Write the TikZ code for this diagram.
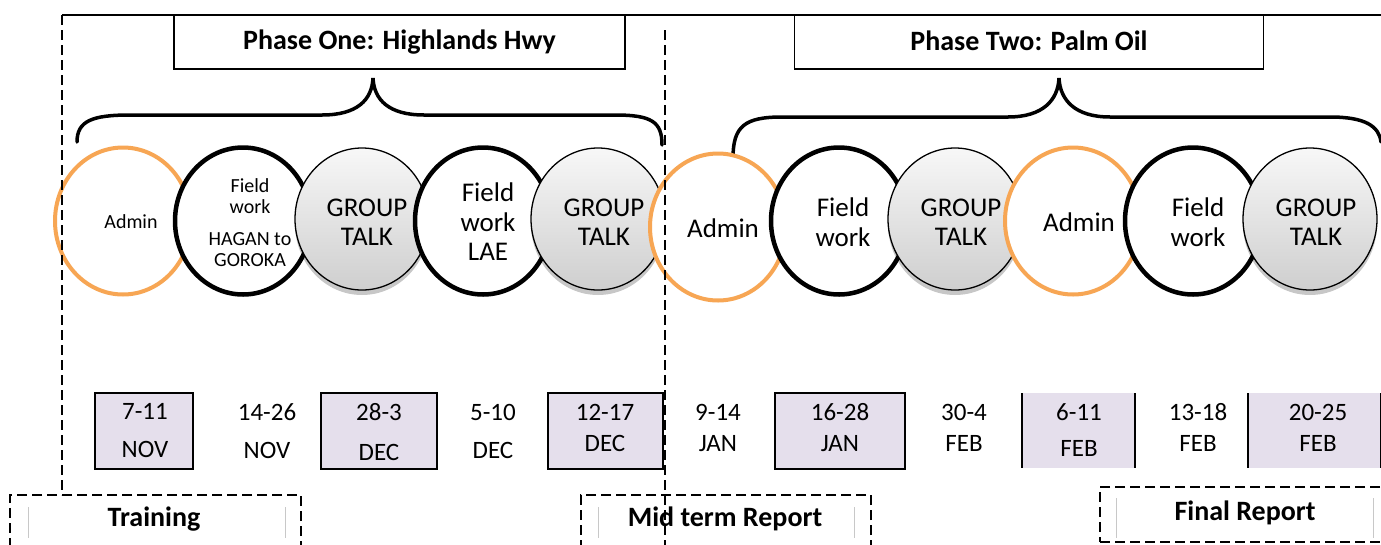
\documentclass[tikz,border=0pt]{standalone}
\usepackage{fontspec}
\setmainfont{Carlito}
\usetikzlibrary{shapes.geometric,shadows}
\definecolor{orng}{RGB}{247,166,84}
\definecolor{lav}{RGB}{229,223,236}
\definecolor{gline}{RGB}{200,200,200}
\begin{document}
\begin{tikzpicture}[x=1pt,y=-1pt,
  every node/.style={inner sep=0pt, outer sep=0pt},
  oval/.style={ellipse, minimum width=136pt, minimum height=147pt, fill=white},
  adm/.style={oval, draw=orng, line width=4pt},
  fld/.style={oval, draw=black, line width=4.5pt},
  grp/.style={ellipse, minimum width=134pt, minimum height=142pt, draw=black, line width=1.3pt,
     top color=gray!6, bottom color=gray!38,
     drop shadow={shadow xshift=0pt, shadow yshift=-5pt, opacity=0.22, fill=black}},
  big/.style={font=\fontsize{27}{29.5}\selectfont, align=center},
  small/.style={font=\fontsize{20}{21}\selectfont, align=center},
  datebox/.style={rectangle, draw=black, line width=1.8pt, fill=lav, minimum height=76pt},
  datefill/.style={rectangle, fill=lav, minimum height=75pt},
  dtxt/.style={font=\fontsize{25}{31}\selectfont, align=center},
  titlebox/.style={rectangle, draw=black, line width=1.8pt, fill=white, minimum height=54pt,
     font=\bfseries\fontsize{28}{30}\selectfont},
  dline/.style={line width=2.2pt, dash pattern=on 10pt off 5pt},
  repbox/.style={rectangle, draw=black, dline},
  reptxt/.style={font=\bfseries\fontsize{28}{30}\selectfont},
  bracepath/.style={line width=3.5pt, line cap=round},
  inner/.style={draw=gline, line width=1pt}
]
\useasboundingbox (0,0) rectangle (1381,544);
\fill[white] (0,0) rectangle (1381,544);

% top line
\coordinate (tl) at (62,15);
\coordinate (tr) at (1381,15);
\draw[line width=1.2pt] (tl) -- (tr);

% phase titles
\node[titlebox, minimum width=451pt] (p1) at (399.5,42) {Phase One: Highlands Hwy};
\node[titlebox, minimum width=469pt] (p2) at (1029,42) {\raisebox{2pt}{Phase Two: Palm Oil}};

% braces
\draw[bracepath] (77,142) .. controls (77,121) and (92,115) .. (130,115) -- (322,115)
   .. controls (357,115) and (372,100) .. (373,78)
   .. controls (374,100) and (389,115) .. (424,115) -- (615,115)
   .. controls (652,115) and (662,122) .. (662,145);
\draw[bracepath] (733,158) .. controls (733,126) and (745,117) .. (782,117) -- (1008,117)
   .. controls (1043,117) and (1058,100) .. (1059,78)
   .. controls (1060,100) and (1075,117) .. (1110,117) -- (1330,117)
   .. controls (1365,117) and (1379,126) .. (1381,142);

% ovals
\node[adm, label={[small,xshift=8pt,yshift=-1pt]center:Admin}] (c1) at (123,221) {};
\node[fld, label={[small,xshift=7pt,yshift=-2pt]center:Field\\work\\[11pt]HAGAN to\\GOROKA}] (c2) at (243,221) {};
\node[grp, label={[big,xshift=5pt,yshift=-3pt]center:GROUP\\TALK}] (c3) at (362,219) {};
\node[fld, label={[big,xshift=5pt,yshift=-1pt]center:Field\\work\\LAE}] (c4) at (483,221) {};
\node[grp, label={[big,xshift=6pt,yshift=-3pt]center:GROUP\\TALK}] (c5) at (598,219) {};
\node[adm, label={[big,xshift=5pt,yshift=-1pt]center:Admin}] (c6) at (718,227) {};
\node[fld, label={[big,xshift=4pt,yshift=-1pt]center:Field\\work}] (c7) at (839,221) {};
\node[grp, label={[big,xshift=6pt,yshift=-3pt]center:GROUP\\TALK}] (c8) at (955,219) {};
\node[adm, label={[big,xshift=6pt,yshift=-1pt]center:Admin}] (c9) at (1073,221) {};
\node[fld, label={[big,xshift=5pt,yshift=-1pt]center:Field\\work}] (c10) at (1193,221) {};
\node[grp, label={[big,xshift=6pt,yshift=-3pt]center:GROUP\\TALK}] (c11) at (1310,219) {};

% date boxes
\node[datebox, minimum width=98pt] (b1) at (144,431) {};
\node[datebox, minimum width=116pt] (b3) at (379,431) {};
\node[datebox, minimum width=115pt] (b5) at (605.5,431) {};
\node[datebox, minimum width=130pt] (b7) at (840,431) {};
\node[datefill, minimum width=113pt] (b9) at (1078.5,430.5) {};
\draw[line width=1.8pt] (b9.north west) -- (b9.south west) (b9.north east) -- (b9.south east);
\node[datefill, minimum width=140pt] (b11) at (1318,430.5) {};
\draw[line width=1.8pt] (b11.north west) -- (b11.south west);
\draw[line width=1.8pt] (1381,393) -- (1381,468);

% date texts
\node[dtxt, font=\fontsize{25}{38}\selectfont] (d1) at (145,431) {7-11\\NOV};
\node[dtxt, font=\fontsize{25}{38}\selectfont] (d2) at (267,431) {14-26\\NOV};
\node[dtxt, font=\fontsize{25}{40}\selectfont] (d3) at (379,432) {28-3\\DEC};
\node[dtxt, font=\fontsize{25}{38}\selectfont] (d4) at (493,431) {5-10\\DEC};
\node[dtxt] (d5) at (605,427.5) {12-17\\DEC};
\node[dtxt] (d6) at (718,427.5) {9-14\\JAN};
\node[dtxt] (d7) at (840,427.5) {16-28\\JAN};
\node[dtxt] (d8) at (964,427.5) {30-4\\FEB};
\node[dtxt, font=\fontsize{25}{36}\selectfont] (d9) at (1079,430) {6-11\\FEB};
\node[dtxt] (d10) at (1198,427.5) {13-18\\FEB};
\node[dtxt] (d11) at (1318,427.5) {20-25\\FEB};

% report boxes
\node[repbox, minimum width=291pt, minimum height=65pt] (r1) at (155.5,527.5) {};
\node[reptxt] (t1) at (154,519) {Training};
\draw[inner] (28,507) -- (28,538) (285,507) -- (285,538);
\node[repbox, minimum width=290pt, minimum height=65pt] (r2) at (726,527.5) {};
\node[reptxt] (t2) at (725,519) {Mid term Report};
\draw[inner] (598,507) -- (598,538) (854,507) -- (854,538);
\node[repbox, minimum width=300pt, minimum height=55pt] (r3) at (1250,514.5) {};
\node[reptxt] (t3) at (1245,513) {Final Report};
\draw[inner] (1116,498) -- (1116,538) (1373,498) -- (1373,538);

% dashed guide lines
\draw[dline] (tl) -- (tl |- r1.north);
\coordinate (mtop) at (665,30);
\draw[dline] (mtop) -- (mtop |- r2.south);
\end{tikzpicture}
\end{document}
